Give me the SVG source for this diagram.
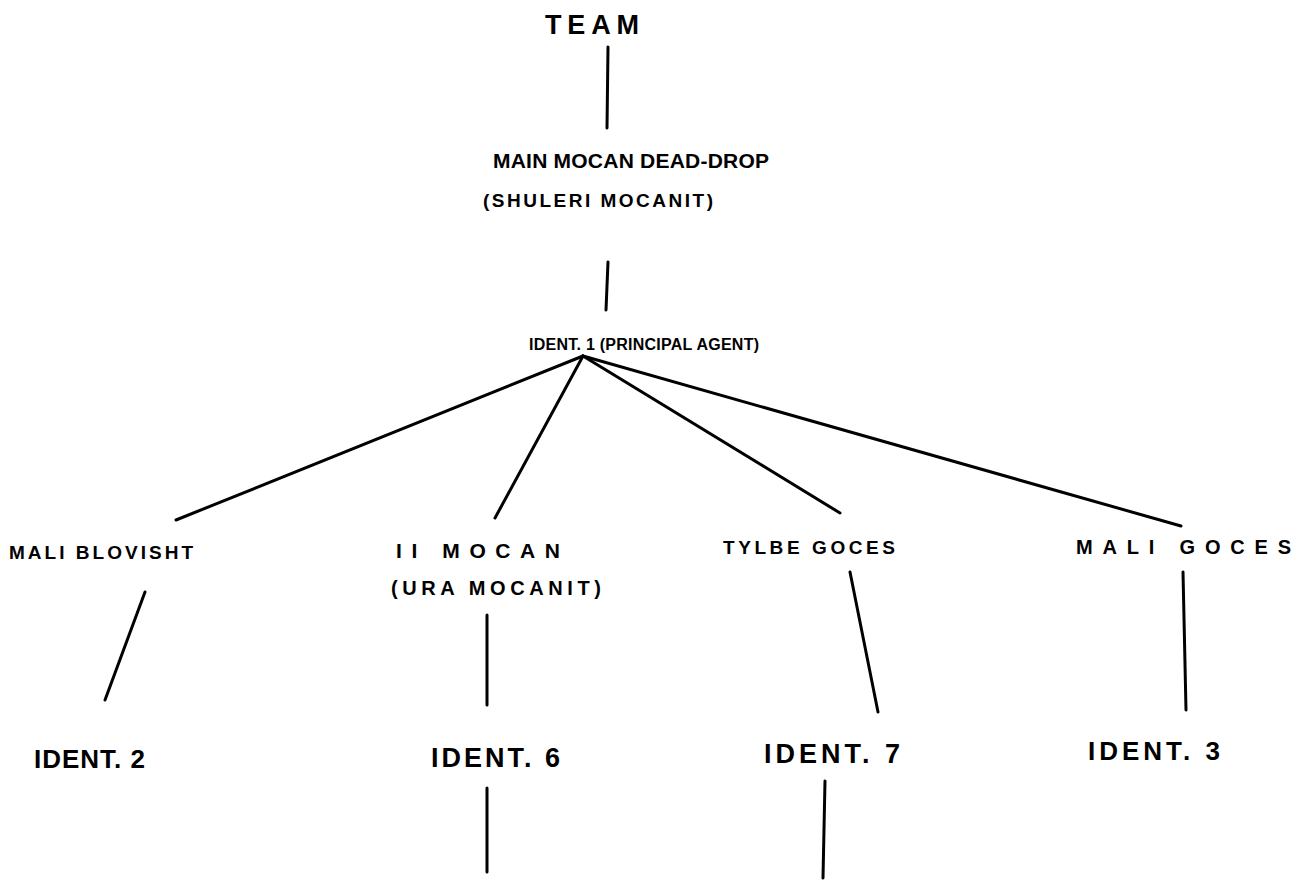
<svg xmlns="http://www.w3.org/2000/svg" width="1299" height="882" viewBox="0 0 1299 882">
<style>
.t{font-family:"Liberation Sans","DejaVu Sans",sans-serif;font-weight:bold;fill:#000}
.c{stroke:#000;stroke-width:3;stroke-linecap:round;fill:none}
</style>
<rect width="1299" height="882" fill="#fff"/>
<g id="connectors">
<line class="c" x1="608" y1="47" x2="607" y2="128"/>
<line class="c" x1="608" y1="262" x2="606" y2="310"/>
<line class="c" x1="583" y1="356" x2="176" y2="520"/>
<line class="c" x1="583" y1="356" x2="495" y2="518"/>
<line class="c" x1="583" y1="356" x2="840" y2="513"/>
<line class="c" x1="583" y1="356" x2="1181" y2="526"/>
<line class="c" x1="145" y1="592" x2="105" y2="700"/>
<line class="c" x1="487" y1="615" x2="487" y2="705"/>
<line class="c" x1="850" y1="572" x2="878" y2="712"/>
<line class="c" x1="1183" y1="572" x2="1186" y2="710"/>
<line class="c" x1="487" y1="788" x2="487" y2="872"/>
<line class="c" x1="825" y1="781" x2="823" y2="878"/>
</g>
<g id="team"><text class="t" x="545" y="34" font-size="27" textLength="94" lengthAdjust="spacing">TEAM</text></g>
<g id="main"><text class="t" x="493" y="168" font-size="21" textLength="276" lengthAdjust="spacing">MAIN MOCAN DEAD-DROP</text>
<text class="t" x="483" y="207" font-size="19" textLength="230" lengthAdjust="spacing">(SHULERI MOCANIT)</text></g>
<g id="ident1"><text class="t" x="529" y="350" font-size="16" textLength="230" lengthAdjust="spacing">IDENT. 1 (PRINCIPAL AGENT)</text></g>
<g id="mali-blovisht"><text class="t" x="9" y="559" font-size="19" textLength="184" lengthAdjust="spacing">MALI BLOVISHT</text></g>
<g id="ii-mocan"><text class="t" x="396" y="558" font-size="21" textLength="164" lengthAdjust="spacing">II MOCAN</text>
<text class="t" x="391" y="595" font-size="20" textLength="210" lengthAdjust="spacing">(URA MOCANIT)</text></g>
<g id="tylbe-goces"><text class="t" x="723" y="554" font-size="19" textLength="172" lengthAdjust="spacing">TYLBE GOCES</text></g>
<g id="mali-goces"><text class="t" x="1076" y="554" font-size="20" textLength="215" lengthAdjust="spacing">MALI GOCES</text></g>
<g id="ident2"><text class="t" x="34" y="768" font-size="26" textLength="111" lengthAdjust="spacing">IDENT. 2</text></g>
<g id="ident6"><text class="t" x="431" y="767" font-size="27" textLength="129" lengthAdjust="spacing">IDENT. 6</text></g>
<g id="ident7"><text class="t" x="764" y="763" font-size="27" textLength="136" lengthAdjust="spacing">IDENT. 7</text></g>
<g id="ident3"><text class="t" x="1088" y="760" font-size="26" textLength="132" lengthAdjust="spacing">IDENT. 3</text></g>
</svg>
